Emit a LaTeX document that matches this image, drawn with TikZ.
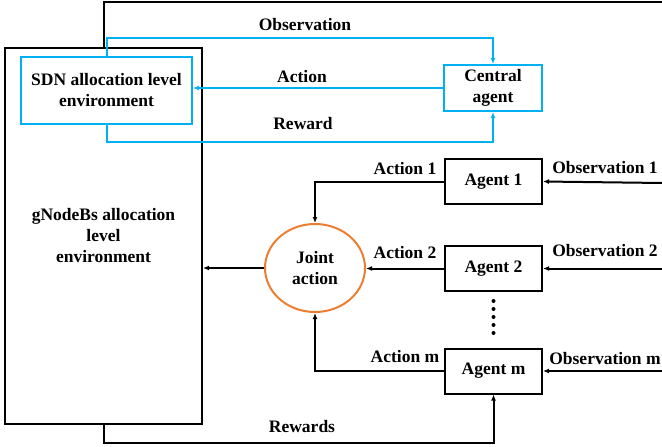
\documentclass[tikz,border=0pt]{standalone}
\usepackage{fontspec}
\setmainfont{Liberation Serif}
\usepackage{xcolor}
\usetikzlibrary{arrows.meta,positioning,calc,shapes.geometric}

\definecolor{sdnblue}{RGB}{0,176,240}
\definecolor{jointorange}{RGB}{237,125,49}

\begin{document}
\begin{tikzpicture}[
  x=1pt, y=-1pt,
  font=\fontsize{17.5}{21}\selectfont\bfseries,
  every node/.style={align=center},
  box/.style={draw=black, line width=2pt, rectangle, inner sep=0pt},
  bluebox/.style={draw=sdnblue, line width=2pt, rectangle, inner sep=0pt},
  agentbox/.style={box, minimum width=97, minimum height=45},
  lbl/.style={inner sep=1pt},
  arr/.style={-{Latex[length=6pt,width=5pt]}, line width=2pt, black},
  bluearr/.style={-{Latex[length=6pt,width=5pt]}, line width=2pt, sdnblue}
]
\useasboundingbox (0,0) rectangle (662,447);

% gNodeB level environment (big box) with the SDN level inside
\node[box, minimum width=197, minimum height=376] (gnb) at (103.5,236)
  {gNodeBs allocation\\level\\environment};
\node[bluebox, minimum width=171, minimum height=67] (sdn) at (106.5,90.5)
  {SDN allocation level\\environment};

% central agent
\node[bluebox, minimum width=98, minimum height=46] (central) at (493,88)
  {Central\\agent};

% agents of the gNodeB level
\node[agentbox] (a1) at (493.5,181.5) {Agent 1};
\node[agentbox] (a2) at (493.5,268.5) {Agent 2};
\node[agentbox] (am) at (493.5,371) {Agent m};

\node[draw=jointorange, line width=2pt, ellipse, minimum width=100, minimum height=88, inner sep=0pt]
  (joint) at (315,268) {Joint\\action};

% free ends at the right edge
\coordinate (topR) at (662,2);
\coordinate (obs1) at (662,183);
\coordinate (obs2) at (662,268.5);
\coordinate (obsm) at (662,371);

% central level loop
\draw[bluearr] (sdn.north) -- ++(0,-18) -| (central.north);
\draw[bluearr] (central.west) -- (central.west -| sdn.east);
\draw[bluearr] (sdn.south) -- ++(0,17) -| (central.south);
\node[lbl] (lobs) at (305,25) {Observation};
\node[lbl] (lact) at (302,77) {Action};
\node[lbl] (lrew) at (303,124) {Reward};

% gNodeB level
\draw[line width=2pt] (gnb.north) |- (topR);
\draw[arr] (obs1) -- (a1.east);
\draw[arr] (obs2) -- (a2.east);
\draw[arr] (obsm) -- (am.east);
\draw[arr] (a1.west) -| (joint.north);
\draw[arr] (a2.west) -- (a2.west -| joint.east);
\draw[arr] (am.west) -| (joint.south);
\draw[arr] (joint.west) -- (joint.west -| gnb.east);
\draw[arr] (gnb.south) -- ++(0,18) -| (am.south);
\draw[line width=4pt, line cap=round, dash pattern=on 0pt off 8pt,
  shorten <=9pt, shorten >=8pt] (a2.south) -- (am.north);

\node[lbl] (la1) at (405,169) {Action 1};
\node[lbl] (la2) at (405,253) {Action 2};
\node[lbl] (lam) at (405,357) {Action m};
\node[lbl] (lo1) at (605,168) {Observation 1};
\node[lbl] (lo2) at (605,251) {Observation 2};
\node[lbl] (lom) at (605,359) {Observation m};
\node[lbl] (lrews) at (302,427) {Rewards};

\end{tikzpicture}
\end{document}
